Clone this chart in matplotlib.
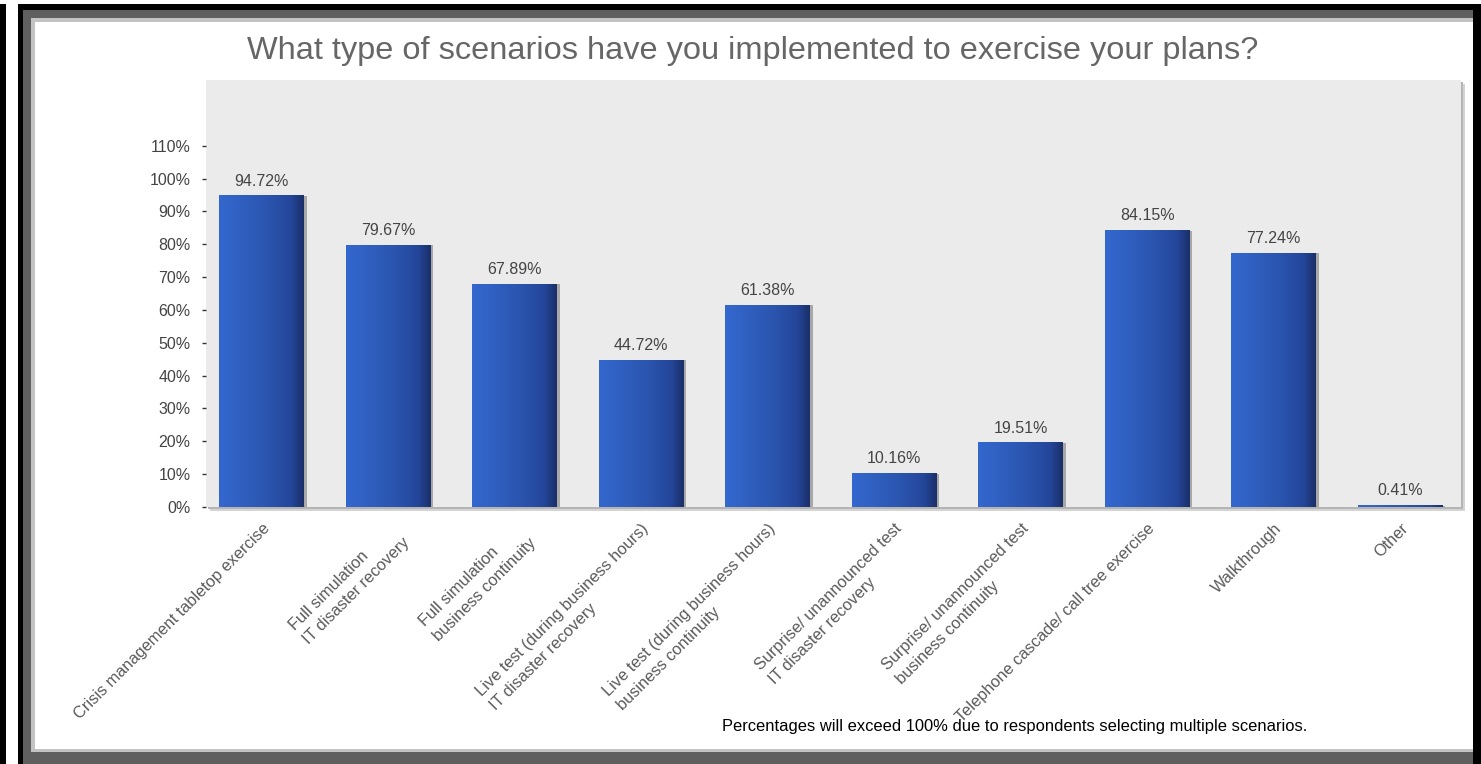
import numpy as np
import matplotlib
matplotlib.use("Agg")
import matplotlib.pyplot as plt
from matplotlib.patches import Rectangle
from matplotlib.colors import LinearSegmentedColormap

plt.rcParams["font.family"] = ["Liberation Sans", "DejaVu Sans"]

# data
categories = [
    "Crisis management tabletop exercise",
    "Full simulation\nIT disaster recovery",
    "Full simulation\nbusiness continuity",
    "Live test (during business hours)\nIT disaster recovery",
    "Live test (during business hours)\nbusiness continuity",
    "Surprise/ unannounced test\nIT disaster recovery",
    "Surprise/ unannounced test\nbusiness continuity",
    "Telephone cascade/ call tree exercise",
    "Walkthrough",
    "Other",
]
values = [94.72, 79.67, 67.89, 44.72, 61.38, 10.16, 19.51, 84.15, 77.24, 0.41]
yticks = list(range(0, 111, 10))

title = "What type of scenarios have you implemented to exercise your plans?"
note = "Percentages will exceed 100% due to respondents selecting multiple scenarios."

W, H = 1481, 764
fig = plt.figure(figsize=(W / 100, H / 100), dpi=100)
fig.patch.set_facecolor("white")


def px_rect(x0, y0, x1, y1, color):
    # rectangle given in pixel coords (origin top-left)
    fig.patches.append(Rectangle((x0 / W, 1 - y1 / H), (x1 - x0) / W, (y1 - y0) / H,
                                 transform=fig.transFigure, facecolor=color,
                                 edgecolor="none", zorder=-5))


# window-like frame
px_rect(0, 4, 6, 764, "black")
px_rect(18, 4, 1481, 764, "black")
px_rect(23, 10, 1473, 764, "#5f5f5f")
px_rect(31, 18, 1473, 752, "#c3c3c3")
px_rect(35, 22, 1473, 749, "white")

# plot area + its shadow
ax_l, ax_r, ax_t, ax_b = 206, 1461, 80, 507
px_rect(ax_l + 4, ax_t + 4, ax_r + 4, ax_b + 4, "#d4d4d4")
px_rect(ax_l + 2, ax_t + 2, ax_r + 2, ax_b + 2, "#b4b4b4")
ax = fig.add_axes([ax_l / W, 1 - ax_b / H, (ax_r - ax_l) / W, (ax_b - ax_t) / H])
ax.set_zorder(5)
ax.set_facecolor("#ebebeb")

cmap = LinearSegmentedColormap.from_list(
    "bar", [(0, "#3468cf"), (0.55, "#2b56b0"), (0.85, "#24469a"), (1, "#1b2f68")])
grad = np.linspace(0, 1, 256).reshape(1, -1)

x = np.arange(len(values))
w = 0.67
# bar shadows
ax.bar(x + 0.022, values, width=w, color="#a8a8a8", zorder=2)
for xi, v in zip(x, values):
    ax.imshow(grad, extent=[xi - w / 2, xi + w / 2, 0, v], aspect="auto",
              cmap=cmap, zorder=3, interpolation="bilinear")
    ax.text(xi, v + 2.2, f"{v:.2f}%", ha="center", va="bottom",
            fontsize=11.5, color="#444444", zorder=4)

ax.set_xlim(-0.44, len(values) - 1 + 0.48)
ax.set_ylim(0, 130)
ax.set_aspect("auto")

for s in ax.spines.values():
    s.set_visible(False)

ax.set_yticks(yticks)
ax.set_yticklabels([f"{t}%" for t in yticks], fontsize=11.5, color="#444444")
ax.tick_params(axis="y", direction="out", length=3, width=1, color="#333333", pad=8)

ax.set_xticks(x)
ax.set_xticklabels(categories, rotation=45, ha="right", rotation_mode="anchor",
                   fontsize=11.8, color="#5a5a5a", multialignment="left",
                   linespacing=1.4)
ax.tick_params(axis="x", length=0, pad=10)

fig.text(753 / W, 1 - 51 / H, title, ha="center", va="center", fontsize=23.4, color="#666666")
fig.text(1015 / W, 1 - 727 / H, note, ha="center", va="center", fontsize=11.9, color="black")

fig.savefig("out.png", dpi=100, facecolor=fig.get_facecolor())
